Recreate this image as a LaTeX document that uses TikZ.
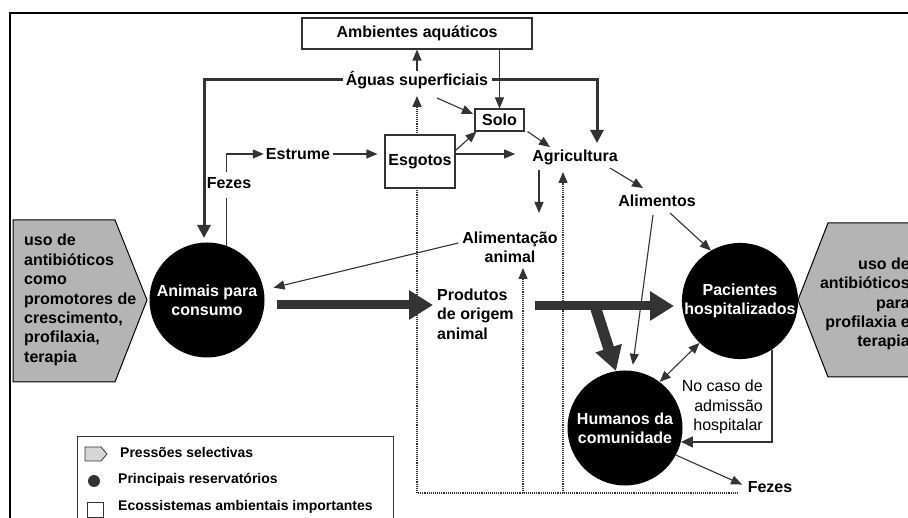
\documentclass[tikz,border=0pt]{standalone}
\usepackage{fontspec}
\setmainfont{Liberation Sans}
\usetikzlibrary{arrows.meta,calc}
\definecolor{ln}{HTML}{333333}
\definecolor{pentfill}{HTML}{B4B4B4}
\definecolor{pentlight}{HTML}{D6D6D6}
\tikzset{
  lbl/.style={font=\fontsize{16}{19.4}\selectfont\bfseries, inner sep=0pt},
  reg/.style={font=\fontsize{16}{19.6}\selectfont, inner sep=0pt},
  legtxt/.style={font=\fontsize{14}{17}\selectfont\bfseries, inner sep=0pt, anchor=west},
  ecobox/.style={lbl, draw=ln, line width=1.1pt, fill=white},
  reservoir/.style={lbl, circle, fill=black, text=white, minimum size=115pt, align=center},
  pentshape/.style={draw=black, line width=1pt, fill=pentfill},
  thinarrow/.style={draw=ln, line width=1.1pt, -{Triangle[length=11pt,width=9pt]}},
  thinline/.style={draw=ln, line width=1.1pt},
  medarrow/.style={draw=ln, line width=1.8pt, -{Triangle[length=12pt,width=11pt]}},
  thickarrow/.style={draw=ln, line width=3pt, -{Triangle[length=13pt,width=13pt]}},
  dotline/.style={draw=ln, line width=1.3pt, dash pattern=on 1pt off 0.9pt},
  dotarrow/.style={dotline, -{Triangle[length=11pt,width=9pt]}},
  bigarrow/.style={draw=ln, fill=ln, line width=9pt, -{Triangle[length=24pt,width=28pt]}},
  branch/.style={draw=ln, fill=ln, line width=11pt, -{Triangle[length=24pt,width=26pt]}}
}
\begin{document}
\begin{tikzpicture}[x=1pt,y=-1pt]
\useasboundingbox (0,0) rectangle (908,518);
\clip (0,0) rectangle (908,518);
\fill[white] (0,0) rectangle (908,518);

% frame
\draw[line width=1.2pt] (10,520) -- (10,13) -- (910,13);

% selective pressure shapes
\draw[pentshape] (13,220) -- (115,220) -- (147,300) -- (115,382) -- (13,382) -- cycle;
\node[lbl, align=left, anchor=west] (usoL) at (24,300) {uso de\\antibióticos\\como\\promotores de\\crescimento,\\profilaxia,\\terapia};
\draw[pentshape] (915,223) -- (828,223) -- (798,300) -- (828,377) -- (915,377);
\node[lbl, align=right, anchor=east] (usoR) at (910,304) {uso de\\antibióticos\\para\\profilaxia e\\terapia};

% dotted network (drawn first, behind boxes)
\draw[dotline] (738,493) -- (417,493) -- (417,188);
\draw[dotarrow] (417,135) -- (417,96);
\draw[dotarrow] (523,493) -- (523,268);
\draw[dotarrow] (563,493) -- (563,172);

% nodes
\node[ecobox, minimum width=230pt, minimum height=31pt] (amb) at (417,33.5) {Ambientes aquáticos};
\node[lbl] (agu) at (417,80) {Águas superficiais};
\node[ecobox, minimum width=49pt, minimum height=22pt] (solo) at (499.5,120) {Solo};
\node[ecobox, minimum width=70pt, minimum height=53pt] (esg) at (420,161.5) {Esgotos};
\node[lbl] (estr) at (298,154) {Estrume};
\node[lbl] (fez1) at (229,183) {Fezes};
\node[lbl] (agr) at (575,157) {Agricultura};
\node[lbl] (alim) at (657,201) {Alimentos};
\node[lbl, align=center] (alan) at (510,247) {Alimentação\\animal};
\node[lbl, align=left, anchor=west] (prod) at (437,314) {Produtos\\de origem\\animal};
\node[reservoir] (anim) at (207,300) {Animais para\\consumo};
\node[reservoir] (pac) at (740,301) {Pacientes\\hospitalizados};
\node[reservoir] (hum) at (625,428) {Humanos da\\comunidade};
\node[reg, align=right, anchor=east] (caso) at (763,407) {No caso de\\admissão\\hospitalar};
\node[lbl] (fez2) at (770,487) {Fezes};

% connectors, top part
\draw[thinarrow] (agu.north) -- (amb.south);
\draw[thinarrow] (solo.north |- amb.south) -- (solo.north);
\draw[thinarrow] (437,98) -- (473,114);
\draw[thickarrow] ([xshift=4pt]agu.east) -| (597,143);
\draw[thickarrow] ([xshift=-3pt]agu.west) -| (204,238);

% Fezes -> Estrume -> Esgotos
\coordinate (fa) at ([yshift=-9pt]fez1.south);
\coordinate (fb) at ([yshift=5pt]fez1.north);
\draw[thinline] (anim.70) -- (fa -| anim.70);
\draw[thinarrow] (fb -| anim.70) |- ([xshift=-2pt]estr.west);
\draw[thinarrow, shorten <=3pt, shorten >=7pt] (estr.east) -- (esg.west |- estr.east);

% Esgotos / Solo / Agricultura
\draw[thinarrow] ([yshift=11pt]esg.east) -- ([xshift=2pt]solo.south west);
\draw[thinarrow, shorten >=17pt] (esg.east |- estr.east) -- (agr.west |- estr.east);
\draw[thinarrow] ([xshift=3pt]solo.south east) -- (550,147);
\draw[thinarrow] (539,170) -- (539,213);
\draw[thinarrow] (610,168) -- (643,188);

% Alimentos
\draw[thinarrow] (670,213) -- (pac.120);
\draw[thinarrow, shorten >=6pt] (653,215) -- (hum.83);

% Alimentacao animal -> Animais
\draw[thinarrow, shorten >=10pt] ([xshift=-4pt,yshift=4pt]alan.west) -- (anim.10);

% big flows
\draw[bigarrow] (277,305) -- (433,305);
\draw[bigarrow] (535,306) -- (674,306);
\draw[branch] (595,306) -- (616,371);

% hospital interactions
\draw[thinline, {Triangle[length=11pt,width=9pt]}-{Triangle[length=11pt,width=9pt]}] (pac.226) -- (hum.53);
\draw[medarrow] (pac.-57) |- (hum.-14);
\draw[thinarrow, shorten >=6pt] (hum.-28) -- (fez2.west);

% legend
\draw[line width=1pt, draw=ln] (77,520) -- (77,437) -- (393,437) -- (393,520);
\draw[draw=ln, line width=0.8pt, fill=pentlight] (85,447) -- (101,447) -- (107,454) -- (101,461) -- (85,461) -- cycle;
\node[legtxt] (leg1) at (120,452) {Pressões selectivas};
\fill[ln] (94,481) circle (6pt);
\node[legtxt] (leg2) at (118,480) {Principais reservatórios};
\draw[draw=ln, line width=1pt] (87,502) rectangle (103,517);
\node[legtxt] (leg3) at (118,507) {Ecossistemas ambientais importantes};
\end{tikzpicture}
\end{document}
